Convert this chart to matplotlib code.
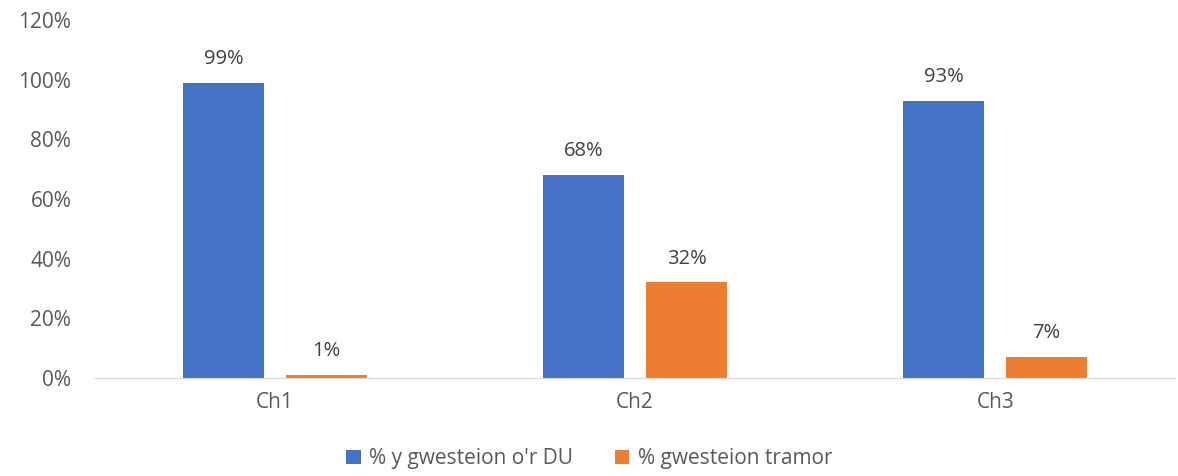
import matplotlib.pyplot as plt
import numpy as np

categories = ["Ch1", "Ch2", "Ch3"]
uk_guests = [99, 68, 93]
foreign_guests = [1, 32, 7]
series_labels = ["% y gwesteion o'r DU", "% gwesteion tramor"]
y_ticks = [0, 20, 40, 60, 80, 100, 120]

plt.rcParams['font.family'] = ['Open Sans', 'DejaVu Sans']
text_col = "#595959"

fig = plt.figure(figsize=(11.78, 4.76), dpi=100)
ax = fig.add_axes([0.0806, 0.206, 0.917, 0.752])

x = np.arange(len(categories))
w = 0.225
off = 0.143
b1 = ax.bar(x - off, uk_guests, w, color="#4472C4", label=series_labels[0])
b2 = ax.bar(x + off, foreign_guests, w, color="#ED7D31", label=series_labels[1])

for bars in (b1, b2):
    for b in bars:
        ax.annotate(f"{b.get_height():.0f}%", (b.get_x() + b.get_width() / 2, b.get_height()),
                    xytext=(0, 10), textcoords="offset points", ha="center", va="bottom",
                    fontsize=14.5, color="#404040")

ax.set_xlim(-0.5, 2.5)
ax.set_ylim(0, 120)
ax.set_yticks(y_ticks)
ax.set_yticklabels([f"{t}%" for t in y_ticks])
ax.set_xticks(x)
ax.set_xticklabels(categories)
ax.tick_params(axis="both", length=0, labelsize=15, colors=text_col)
ax.tick_params(axis="y", pad=17)
ax.tick_params(axis="x", pad=10)
for s in ["top", "right", "left"]:
    ax.spines[s].set_visible(False)
ax.spines["bottom"].set_color("#D9D9D9")

fig.legend(handles=[b1, b2], loc="lower center", bbox_to_anchor=(0.5, -0.025), ncol=2,
           frameon=False, fontsize=15, handlelength=0.7, handleheight=0.7,
           columnspacing=2.0, handletextpad=0.4, labelcolor=text_col)

fig.savefig("out.png", dpi=100)
